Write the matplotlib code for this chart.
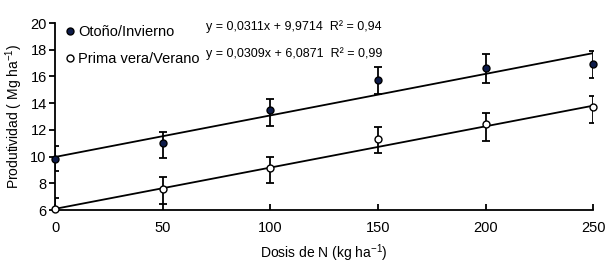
import numpy as np
import matplotlib
matplotlib.use("Agg")
import matplotlib.pyplot as plt

plt.rcParams["font.family"] = ["Liberation Sans", "DejaVu Sans"]

# ── Data ──────────────────────────────────────────────────────────────────────
dosis = [0, 50, 100, 150, 200, 250]

oi_mean = [9.85, 11.0, 13.5, 15.75, 16.65, 16.95]
oi_low  = [8.9, 9.9, 12.3, 14.7, 15.5, 15.9]
oi_high = [10.8, 11.85, 14.3, 16.7, 17.7, 17.9]

pv_mean = [6.05, 7.6, 9.15, 11.35, 12.45, 13.7]
pv_low  = [6.05, 6.45, 8.0, 10.3, 11.2, 12.5]
pv_high = [6.9, 8.45, 10.0, 12.2, 13.3, 14.5]

oi_fit = (0.0311, 9.9714)
pv_fit = (0.0309, 6.0871)

oi_eq = "y = 0,0311x + 9,9714  R² = 0,94"
pv_eq = "y = 0,0309x + 6,0871  R² = 0,99"

# ── Plot ──────────────────────────────────────────────────────────────────────
fig = plt.figure(figsize=(6.14, 2.71), dpi=100)
ax = fig.add_axes([0.0896, 0.225, 0.8764, 0.69])

xf = np.array([0, 250])
ax.plot(xf, oi_fit[0] * xf + oi_fit[1], color="black", lw=1.3, zorder=2)
ax.plot(xf, pv_fit[0] * xf + pv_fit[1], color="black", lw=1.3, zorder=2)

x = np.array(dosis)
for mean, lo, hi, fc, lab in [(oi_mean, oi_low, oi_high, "#0d1b4a", "Otoño/Invierno"),
                              (pv_mean, pv_low, pv_high, "white", "Prima vera/Verano")]:
    mean = np.array(mean)
    yerr = [mean - np.array(lo), np.array(hi) - mean]
    ax.errorbar(x, mean, yerr=yerr, fmt="none", ecolor="black", elinewidth=1.3,
                capsize=3, capthick=1.3, zorder=3)
    ax.plot(x, mean, "o", ms=5, mfc=fc, mec="black", mew=1.0, zorder=4,
            label=lab, clip_on=False)

ax.set_xlim(0, 250)
ax.set_ylim(6, 20)
ax.set_xticks([0, 50, 100, 150, 200, 250])
ax.set_yticks([6, 8, 10, 12, 14, 16, 18, 20])
ax.spines["top"].set_visible(False)
ax.spines["right"].set_visible(False)
ax.spines["left"].set_linewidth(1.3)
ax.spines["bottom"].set_linewidth(1.3)
ax.tick_params(axis="x", direction="in", length=4, width=1.3, labelsize=10.5, pad=8)
ax.tick_params(axis="y", direction="out", length=4, width=1.3, labelsize=10.5, pad=2)

ax.set_xlabel("Dosis de N (kg ha$^{\\mathregular{-1}}$)", fontsize=10, labelpad=5)
ax.set_ylabel("Produtividad ( Mg ha$^{\\mathregular{-1}}$)", fontsize=10, labelpad=4)

ax.legend(loc="upper left", bbox_to_anchor=(-0.008, 1.045), frameon=False,
          fontsize=10.5, handletextpad=0.0, handlelength=1.2,
          labelspacing=0.9, borderaxespad=0.3)

ax.text(0.281, 0.979, oi_eq, transform=ax.transAxes, fontsize=9, va="center")
ax.text(0.281, 0.834, pv_eq, transform=ax.transAxes, fontsize=9, va="center")

fig.savefig("out.png", dpi=100)
